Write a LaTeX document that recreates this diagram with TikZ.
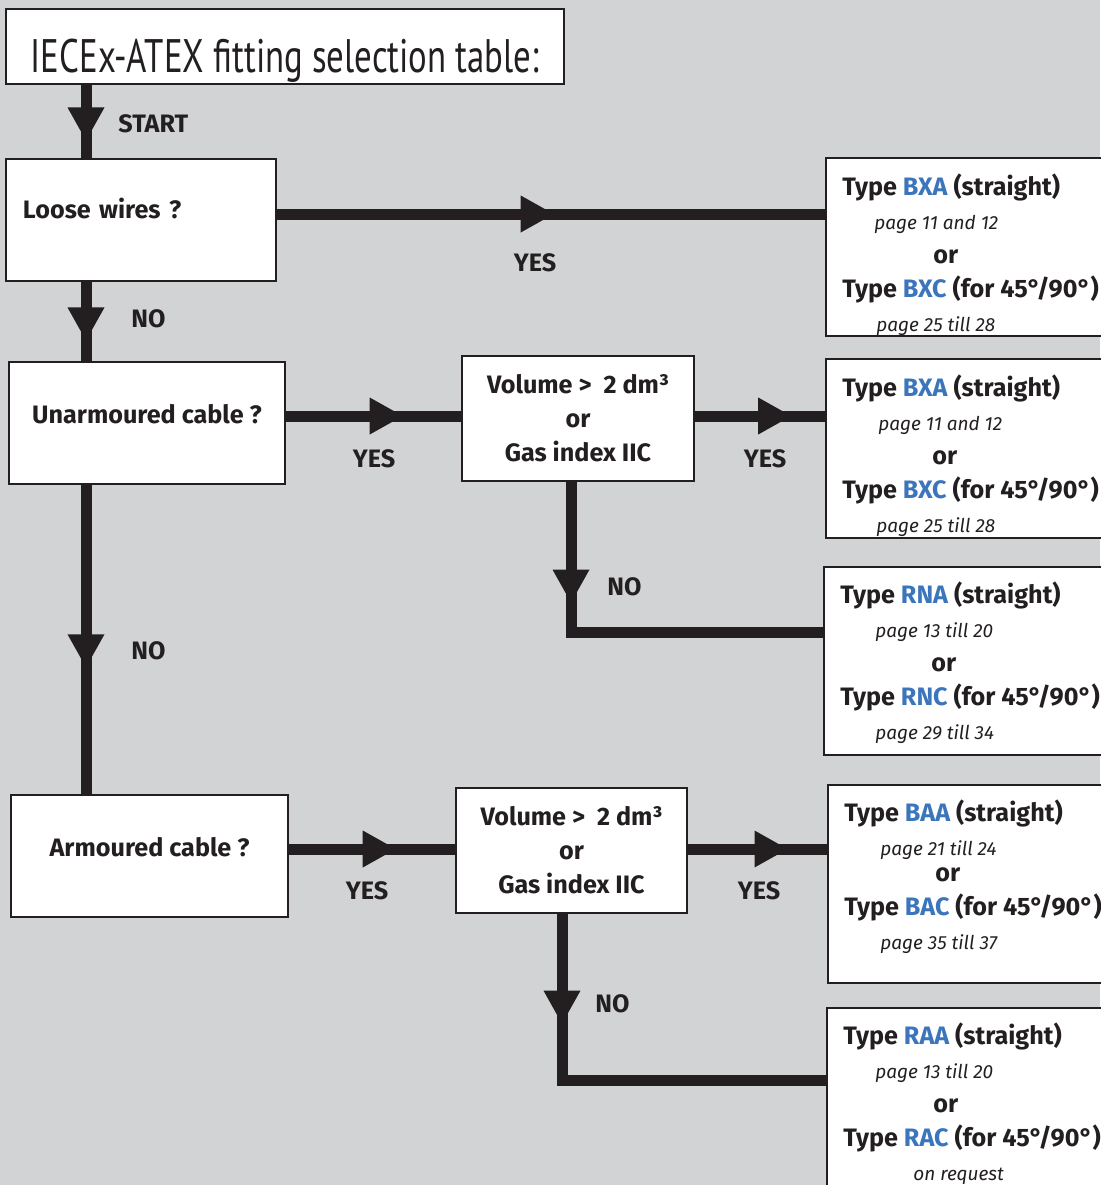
\documentclass[tikz,border=0pt]{standalone}
\usepackage{fontspec}
\setmainfont{Fira Sans}
\newfontfamily\titlefont[FakeStretch=0.74]{PT Sans}
\usetikzlibrary{arrows.meta}
\usetikzlibrary{decorations.markings}

\definecolor{panel}{RGB}{209,211,212}
\definecolor{ink}{RGB}{35,31,32}
\definecolor{typeblue}{RGB}{59,117,187}
\newcommand{\tb}[1]{\textcolor{typeblue}{#1}}
\newcommand{\pg}[1]{{\mdseries\itshape\fontsize{9.5}{17}\selectfont #1}}

\tikzset{
    qbox/.style={draw=ink, line width=1pt, fill=white, anchor=north west, text=ink,
        font=\bfseries\fontsize{12.6}{17}\selectfont, align=center},
    rbox/.style={draw=ink, line width=1pt, fill=white, anchor=north west, minimum width=145pt},
    rtext/.style={anchor=north west, inner sep=0pt, text=ink, align=left,
        font=\bfseries\fontsize{12.6}{17}\selectfont},
    flow/.style={draw=ink, line width=5.5pt},
    midtip/.style={postaction={decorate}, decoration={markings,
        mark=at position #1 with {\arrow{Triangle[width=18.5pt,length=16.5pt,line width=0pt]}}}},
    lbl/.style={text=ink, inner sep=0pt, font=\bfseries\fontsize{12.6}{14}\selectfont},
}

\begin{document}
\begin{tikzpicture}[x=0.5pt,y=-0.5pt]
    \path[fill=panel, use as bounding box] (0,0) rectangle (1100,1185);

    % columns and rows of the connectors
    \coordinate (spine) at (86,0);
    \coordinate (col1) at (571,0);
    \coordinate (col2) at (562,0);
    \coordinate (row1) at (0,214);
    \coordinate (row2) at (0,416);
    \coordinate (row3) at (0,632);
    \coordinate (row4) at (0,849);
    \coordinate (row5) at (0,1080);

    % questions
    \node[qbox, inner sep=0pt, minimum width=279pt, minimum height=37.5pt,
        text height=31pt, text depth=5pt, font=\titlefont\fontsize{23.5}{27}\selectfont]
        (title) at (5,8) {IECEx-ATEX fitting selection table:};
    \node[qbox, align=left, text width=118pt, inner xsep=8.5pt, minimum height=61pt,
        text height=9pt, text depth=10.6pt] (loose) at (5,158) {Loose wires ?};
    \node[qbox, minimum width=138pt, minimum height=61pt, text height=9pt, text depth=8.6pt]
        (unarm) at (8,361) {Unarmoured cable ?};
    \node[qbox, minimum width=138.5pt, minimum height=61pt, text height=9pt, text depth=8.6pt]
        (arm) at (10,794) {Armoured cable ?};
    \node[qbox, minimum width=116pt, minimum height=62.5pt] (vol1) at (461,355)
        {Volume >\ \ 2 dm³\\or\\Gas index IIC};
    \node[qbox, minimum width=115.5pt, minimum height=62.5pt] (vol2) at (455,787)
        {Volume >\ \ 2 dm³\\or\\Gas index IIC};

    % results
    \node[rbox, minimum height=89pt] (r1) at (825,157) {};
    \node[rbox, minimum height=89.5pt] (r2) at (825,358) {};
    \node[rbox, minimum height=94pt] (r3) at (823,566) {};
    \node[rbox, minimum height=99pt] (r4) at (827,784) {};
    \node[rbox, minimum height=100pt] (r5) at (826,1007) {};

    \node[rtext] (r1txt) at ([shift={(17,16)}]r1.north west)
        {Type \tb{BXA} (straight)\\ \hspace*{16pt}\pg{page 11 and 12}\\ \hspace*{45.5pt}or\\
         Type \tb{BXC} (for 45°/90°)\\ \hspace*{17pt}\pg{page 25 till 28}};
    \node[rtext] (r2txt) at ([shift={(17,16)}]r2.north west)
        {Type \tb{BXA} (straight)\\ \hspace*{18pt}\pg{page 11 and 12}\\ \hspace*{45pt}or\\
         Type \tb{BXC} (for 45°/90°)\\ \hspace*{17pt}\pg{page 25 till 28}};
    \node[rtext] (r3txt) at ([shift={(17,15)}]r3.north west)
        {Type \tb{RNA} (straight)\\ \hspace*{17.5pt}\pg{page 13 till 20}\\ \hspace*{45.5pt}or\\
         Type \tb{RNC} (for 45°/90°)\\ \hspace*{17.5pt}\pg{page 29 till 34}};
    \node[rtext] (r4txt) at ([shift={(17,15)}]r4.north west)
        {Type \tb{BAA} (straight)\\ \hspace*{18pt}\pg{page 21 till 24}\\[-4pt] \hspace*{45.5pt}or\\
         Type \tb{BAC} (for 45°/90°)\\ \hspace*{18pt}\pg{page 35 till 37}};
    \node[rtext] (r5txt) at ([shift={(17,15)}]r5.north west)
        {Type \tb{RAA} (straight)\\ \hspace*{16pt}\pg{page 13 till 20}\\ \hspace*{45pt}or\\
         Type \tb{RAC} (for 45°/90°)\\ \hspace*{35pt}\pg{on request}};

    % connectors
    \draw[flow, midtip=0.76] (title.south -| spine) -- (loose.north -| spine);
    \draw[flow, midtip=0.74] (loose.south -| spine) -- (unarm.north -| spine);
    \draw[flow, midtip=0.59] (unarm.south -| spine) -- (arm.north -| spine);
    \draw[flow, midtip=0.505] (loose.east |- row1) -- (r1.west |- row1);
    \draw[flow, midtip=0.667] (unarm.east |- row2) -- (vol1.west |- row2);
    \draw[flow, midtip=0.74] (vol1.east |- row2) -- (r2.west |- row2);
    \draw[flow, midtip=0.3] (vol1.south -| col1) |- (r3.west |- row3);
    \draw[flow, midtip=0.643] (arm.east |- row4) -- (vol2.west |- row4);
    \draw[flow, midtip=0.716] (vol2.east |- row4) -- (r4.west |- row4);
    \draw[flow, midtip=0.255] (vol2.south -| col2) |- (r5.west |- row5);

    % labels
    \node[lbl, anchor=west] (start) at (118,124) {START};
    \node[lbl, anchor=west] (no1) at (131,319) {NO};
    \node[lbl, anchor=west] (no2) at (131,651) {NO};
    \node[lbl, anchor=west] (no3) at (607,587) {NO};
    \node[lbl, anchor=west] (no4) at (595,1004) {NO};
    \node[lbl] (yes1) at (535,263) {YES};
    \node[lbl] (yes2) at (374,459) {YES};
    \node[lbl] (yes3) at (765,459) {YES};
    \node[lbl] (yes4) at (367,891) {YES};
    \node[lbl] (yes5) at (759,891) {YES};
\end{tikzpicture}
\end{document}
